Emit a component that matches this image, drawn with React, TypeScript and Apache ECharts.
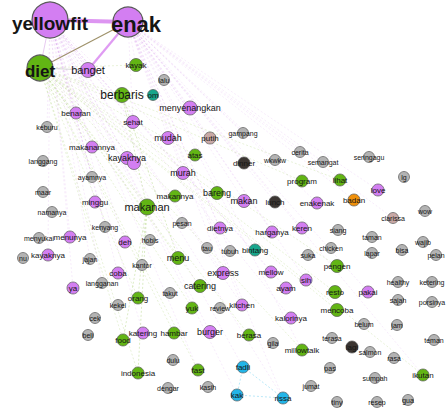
import React, { useEffect, useRef } from "react";
import * as echarts from "echarts";

// Node data: name, x, y (layout coordinates), group, size, label font size
const nodeNames = [
  "yellowfit", "enak", "diet", "banget", "kayak", "berbaris", "om", "lalu", "menyenangkan", "benaran",
  "sehat", "keburu", "gampang", "mudah", "putih", "atas", "dinner", "wkwkw", "cerita", "semangat",
  "seringagu", "lg", "program", "lihat", "love", "enakenak", "badan", "clarissa", "wow", "keren",
  "siang", "taman", "wajib", "makanannya", "kayaknya", "kayaknya#b", "langgang", "ayamnya", "maar", "minggu",
  "namanya", "makanan", "kenyang", "menunya", "menyukai", "deh", "hobis", "nu", "kayaknya#2", "jajan",
  "coba", "kantor", "ya", "langganan", "orang", "kekel", "cek", "beli", "food", "katering",
  "indonesia", "murah", "makannya", "bareng", "makan", "lunch", "pesan", "dietnya", "harganya", "tau",
  "tubuh", "bintang", "suka", "chicken", "lapar", "bisa", "pelan", "menu", "express", "mellow",
  "sih", "pengen", "resto", "pakai", "healthy", "ketering", "takut", "catering", "ayam", "yuk",
  "review", "kitchen", "sajah", "porsinya", "mencoba", "kalorinya", "hambar", "burger", "berasa", "belum",
  "jam", "terasa", "teman", "gila", "millowtalk", "lagi", "salmon", "rasa", "dulu", "fast",
  "fadli", "pas", "ikutan", "sumpah", "jumat", "dengar", "kasih", "kak", "rissa", "tiny",
  "resep", "gua",
];
const nodeX = [
  50, 128, 40, 88, 136, 122, 153, 164, 190, 76,
  133, 47, 243, 168, 210, 195, 244, 275, 300, 323,
  369, 404, 302, 340, 378, 317, 354, 393, 425, 302,
  338, 372, 423, 92, 127, 134, 43, 92, 43, 95,
  52, 147, 105, 70, 39, 125, 150, 23, 48, 90,
  118, 142, 73, 102, 138, 118, 95, 88, 123, 143,
  138, 183, 175, 217, 244, 275, 182, 220, 272, 207,
  230, 255, 308, 331, 372, 402, 436, 178, 223, 271,
  306, 337, 335, 368, 398, 432, 170, 200, 286, 192,
  220, 242, 398, 432, 337, 291, 174, 210, 249, 364,
  397, 332, 434, 273, 302, 352, 370, 394, 173, 198,
  243, 330, 423, 375, 311, 168, 208, 237, 283, 337,
  377, 408,
];
const nodeY = [
  20, 22, 68, 70, 65, 95, 95, 80, 108, 113,
  122, 127, 133, 138, 138, 155, 163, 160, 152, 162,
  157, 177, 181, 180, 190, 203, 200, 218, 211, 228,
  230, 237, 242, 147, 158, 163, 161, 177, 192, 202,
  212, 207, 227, 237, 238, 242, 240, 258, 255, 259,
  273, 265, 288, 283, 298, 305, 318, 335, 340, 333,
  373, 173, 196, 193, 201, 202, 223, 228, 232, 248,
  251, 250, 255, 248, 253, 250, 255, 258, 273, 272,
  280, 266, 292, 292, 282, 282, 293, 286, 288, 308,
  308, 305, 300, 302, 310, 318, 333, 332, 335, 324,
  325, 338, 340, 343, 350, 347, 352, 358, 360, 370,
  367, 368, 375, 378, 386, 388, 387, 395, 398, 402,
  402, 400,
];
// P purple, G green, N gray, T teal, O orange, D dark, K pinkish gray, C cyan
const nodeGroup = [
  "P", "P", "G", "P", "G", "G", "T", "N", "P", "P",
  "P", "N", "N", "P", "K", "G", "D", "N", "N", "N",
  "N", "N", "G", "G", "P", "P", "O", "K", "N", "P",
  "N", "N", "N", "P", "P", "P", "N", "N", "N", "P",
  "N", "G", "N", "P", "N", "P", "N", "N", "P", "N",
  "P", "N", "P", "N", "G", "N", "N", "N", "G", "P",
  "G", "P", "G", "G", "P", "D", "N", "P", "P", "N",
  "N", "T", "N", "N", "N", "N", "N", "G", "P", "P",
  "P", "G", "G", "P", "N", "N", "N", "G", "P", "G",
  "N", "P", "N", "N", "G", "P", "G", "P", "G", "N",
  "N", "N", "N", "N", "G", "D", "N", "N", "N", "G",
  "C", "N", "G", "N", "N", "N", "N", "C", "C", "N",
  "N", "N",
];
const nodeSize = [
  36, 30, 26, 15, 13, 15, 11, 11, 14, 12,
  13, 11, 11, 13, 12, 12, 12, 11, 11, 11,
  11, 11, 12, 12, 12, 12, 12, 11, 11, 12,
  11, 11, 11, 12, 13, 13, 11, 11, 11, 12,
  11, 16, 11, 12, 11, 12, 11, 11, 12, 11,
  12, 11, 12, 11, 12, 11, 11, 11, 12, 12,
  12, 13, 12, 13, 13, 12, 11, 12, 12, 11,
  11, 12, 11, 11, 11, 11, 11, 13, 13, 12,
  12, 13, 13, 12, 11, 11, 11, 13, 12, 12,
  11, 12, 11, 11, 13, 12, 12, 13, 12, 11,
  11, 11, 11, 11, 12, 12, 11, 11, 11, 12,
  12, 11, 12, 11, 11, 11, 11, 12, 12, 11,
  11, 11,
];
const nodeFont = [
  19, 22, 17, 11, 8, 12, 8, 7, 9, 8,
  8, 7, 7, 9, 8, 8, 8, 7, 7, 7,
  7, 7, 8, 8, 8, 8, 8, 7, 7, 8,
  7, 7, 7, 8, 9, 0, 7, 7, 7, 8,
  7, 11, 7, 8, 7, 8, 7, 7, 8, 7,
  8, 7, 8, 7, 8, 7, 7, 7, 8, 8,
  8, 9, 8, 9, 9, 8, 7, 8, 8, 7,
  7, 8, 7, 7, 7, 7, 7, 9, 9, 8,
  8, 8, 8, 8, 7, 7, 7, 9, 8, 8,
  7, 8, 7, 7, 8, 8, 8, 9, 8, 7,
  7, 7, 7, 7, 8, 8, 7, 7, 7, 8,
  8, 7, 8, 7, 7, 7, 7, 8, 8, 7,
  7, 7,
];

// Edges
const mainEdges = [
  ["yellowfit", "enak"],
  ["enak", "banget"],
  ["enak", "diet"],
  ["yellowfit", "diet"],
  ["yellowfit", "banget"],
  ["diet", "banget"],
];
const yellowfitEdges = [
  "benaran", "sehat", "makanannya", "kayaknya", "minggu", "menunya", "deh", "coba", "ya", "kayaknya#2",
  "makanan", "murah", "mudah", "express", "burger", "katering", "kitchen", "fast", "kak", "rissa",
  "fadli", "mellow", "ayam", "kalorinya", "keburu", "ayamnya", "kenyang", "jajan", "langganan", "hobis",
];
const enakEdges = [
  "kayak", "menyenangkan", "mudah", "sehat", "murah", "makan", "dietnya", "harganya", "keren", "enakenak",
  "love", "sih", "pakai", "putih", "gampang", "dinner", "lunch", "badan", "cerita", "semangat",
  "express", "kitchen", "ikutan", "rissa", "millowtalk", "clarissa", "wkwkw", "lalu", "bintang", "tubuh",
];
const dietEdges = [
  "berbaris", "kayak", "makanan", "makannya", "bareng", "atas", "menu", "catering", "yuk", "hambar",
  "food", "orang", "indonesia", "program", "lihat", "pengen", "resto", "mencoba", "millowtalk", "ikutan",
  "fast", "berasa",
];
const otherEdges = [
  ["berbaris", "om"], ["berbaris", "makanan"], ["berbaris", "menu"], ["makanan", "orang"],
  ["makanan", "food"], ["makanan", "indonesia"], ["kak", "rissa"], ["fadli", "rissa"], ["fadli", "kak"],
];

const groupColors: Record<string, string> = {
  P: "#d37ef2",
  G: "#62b514",
  N: "#b3b3b3",
  T: "#17a68b",
  O: "#f0900a",
  D: "#3b3532",
  K: "#c9a9a6",
  C: "#22b5e8",
};
const edgeColors: Record<string, string> = {
  P: "#c97fe6",
  G: "#8fc24a",
  N: "#aaaaaa",
  T: "#17a68b",
  O: "#f0900a",
  D: "#555555",
  K: "#c9a9a6",
  C: "#22b5e8",
};

export default function App() {
  const ref = useRef<HTMLDivElement>(null);
  useEffect(() => {
    if (!ref.current) return;
    const chart = echarts.init(ref.current, undefined, { renderer: "svg" });
    const groupOf = (n: string) => nodeGroup[nodeNames.indexOf(n)];
    const data = nodeNames.map((n, i) => {
      const big = nodeFont[i] >= 17;
      return {
        name: n,
        value: [nodeX[i], nodeY[i]],
        symbolSize: nodeSize[i],
        itemStyle: {
          color: groupColors[nodeGroup[i]],
          borderColor: "#5a5a5a",
          borderWidth: big ? 1.2 : 0.7,
        },
        label: {
          show: nodeFont[i] > 0,
          position: "inside",
          offset: n === "enak" ? [8, 2] : big ? [0, 3] : [0, 0],
          formatter: n.split("#")[0],
          fontSize: nodeFont[i] || 7,
          fontWeight: big ? "bold" : "normal",
          color: "#151515",
          textBorderWidth: 0,
          textShadowBlur: 0,
          fontFamily: "Liberation Sans, Arial, sans-serif",
        },
      };
    });
    const faint = (src: string, w = 0.5, o = 0.3) => ({
      color: edgeColors[groupOf(src)],
      width: w,
      opacity: o,
      type: [2, 2],
      curveness: 0,
    });
    const links: any[] = [];
    const mainStyles = [
      { color: "#d98af0", width: 4, opacity: 0.9, type: "solid" },
      { color: "#d98af0", width: 2.2, opacity: 0.85, type: "solid" },
      { color: "#8c7d4e", width: 1.1, opacity: 0.85, type: "solid" },
      { color: "#c98ae0", width: 0.9, opacity: 0.5, type: "solid" },
      { color: "#c98ae0", width: 0.7, opacity: 0.4, type: "dashed" },
      { color: "#999999", width: 0.8, opacity: 0.5, type: "solid" },
    ];
    mainEdges.forEach(([s, t], i) => links.push({ source: s, target: t, lineStyle: mainStyles[i] }));
    yellowfitEdges.forEach((t) => links.push({ source: "yellowfit", target: t, lineStyle: faint("yellowfit", 0.5, 0.3) }));
    enakEdges.forEach((t) => links.push({ source: "enak", target: t, lineStyle: faint("enak", 0.5, 0.3) }));
    dietEdges.forEach((t) => links.push({ source: "diet", target: t, lineStyle: faint("diet", 0.6, 0.35) }));
    otherEdges.forEach(([s, t]) => links.push({ source: s, target: t, lineStyle: faint(s, 0.7, 0.45) }));

    chart.setOption({
      animation: false,
      backgroundColor: "#ffffff",
      grid: { left: 0, right: 0, top: 0, bottom: 0 },
      xAxis: { type: "value", min: 0, max: 448, show: false },
      yAxis: { type: "value", min: 0, max: 409, inverse: true, show: false },
      series: [
        {
          type: "graph",
          coordinateSystem: "cartesian2d",
          layout: "none",
          symbol: "circle",
          data,
          links,
          edgeSymbol: ["none", "none"],
          emphasis: { disabled: true },
          z: 2,
        },
      ],
    });
    return () => chart.dispose();
  }, []);
  return (
    <div
      ref={ref}
      style={{ position: "fixed", left: 0, top: 0, width: 448, height: 409, background: "#fff" }}
    />
  );
}
